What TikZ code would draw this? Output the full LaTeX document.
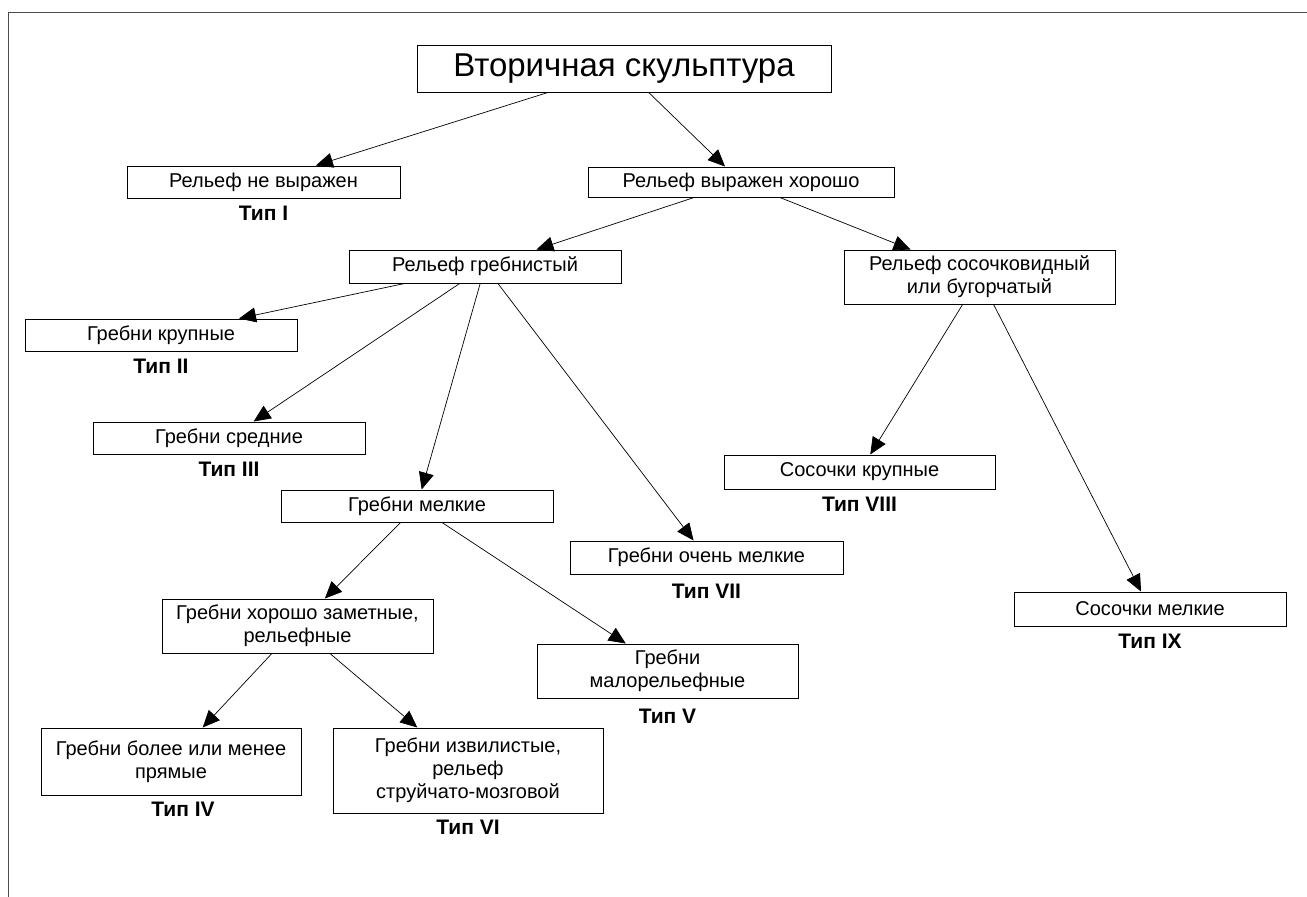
\documentclass[tikz,border=0pt]{standalone}
\usepackage{fontspec}
\setmainfont{Liberation Sans}
\usetikzlibrary{arrows.meta,positioning}
\tikzset{%
        x = 1pt,
        y = -1pt,
        >={Triangle[length=17pt,width=15pt]},
        node distance = 8pt
}
\tikzstyle{box}=[
    draw = black,
    line width = 1pt,
    align = center,
    inner sep = 0pt,
    font = \fontsize{20}{23}\selectfont
]
\tikzstyle{typ}=[
    inner sep = 0pt,
    outer sep = 0pt,
    font = \fontsize{21}{24}\selectfont\bfseries
]
\tikzstyle{every edge}=[
    draw = black,
    line width = 0.7pt,
    ->
]

\begin{document}
\begin{tikzpicture}
        \useasboundingbox (0,0) rectangle (1307,897);
        \draw[line width = 1pt, black!70] (8,897) |- (1307,12);
        % boxes
        \node[box, minimum width = 414pt, minimum height = 47pt,
              font = \fontsize{33}{38}\selectfont] (1) at (624,68.5) {Вторичная скульптура};
        \node[box, minimum width = 273pt, minimum height = 32pt] (2) at (263.5,182) {Рельеф не выражен};
        \node[box, minimum width = 306pt, minimum height = 30pt] (3) at (741,182) {Рельеф выражен хорошо};
        \node[box, minimum width = 272pt, minimum height = 33pt] (4) at (485,266.5) {Рельеф гребнистый};
        \node[box, minimum width = 271pt, minimum height = 54pt] (5) at (979.5,277) {Рельеф сосочковидный\\или бугорчатый};
        \node[box, minimum width = 272pt, minimum height = 32pt] (6) at (161,335) {Гребни крупные};
        \node[box, minimum width = 272pt, minimum height = 32pt] (7) at (229,438) {Гребни средние};
        \node[box, minimum width = 272pt, minimum height = 32pt] (8) at (417,506) {Гребни мелкие};
        \node[box, minimum width = 271pt, minimum height = 54pt] (9) at (297.5,626) {Гребни хорошо заметные,\\рельефные};
        \node[box, minimum width = 261pt, minimum height = 54pt] (10) at (667.5,671) {Гребни\\малорельефные};
        \node[box, minimum width = 273pt, minimum height = 33pt] (11) at (706.5,557.5) {Гребни очень мелкие};
        \node[box, minimum width = 271pt, minimum height = 34pt] (12) at (859.5,472) {Сосочки крупные};
        \node[box, minimum width = 272pt, minimum height = 34pt] (13) at (1150,609) {Сосочки мелкие};
        \node[box, minimum width = 260pt, minimum height = 67pt] (14) at (171,761.5) {Гребни более или менее\\прямые};
        \node[box, minimum width = 270pt, minimum height = 85pt] (15) at (468,770.5) {Гребни извилистые,\\рельеф\\струйчато-мозговой};
        % type labels
        \node[typ, below = of 2] (t1) {Тип I};
        \node[typ, below = of 6] (t2) {Тип II};
        \node[typ, below = of 7] (t3) {Тип III};
        \node[typ, below = 7pt of 14, xshift = 12pt] (t4) {Тип IV};
        \node[typ, below = 11pt of 10] (t5) {Тип V};
        \node[typ, below = 7pt of 15] (t6) {Тип VI};
        \node[typ, below = 10pt of 11] (t7) {Тип VII};
        \node[typ, below = of 12] (t8) {Тип VIII};
        \node[typ, below = of 13] (t9) {Тип IX};
        \path
        (1) edge (2)
        (1) edge (3)
        (3) edge (4)
        (3) edge (5)
        (4) edge (6)
        (4) edge (7)
        (4) edge (8)
        (4) edge (11)
        (8) edge (9)
        (8) edge (10)
        (9) edge (14)
        (9) edge (15)
        (5) edge (12)
        (5) edge (13)
        ;
    \end{tikzpicture}
\end{document}
